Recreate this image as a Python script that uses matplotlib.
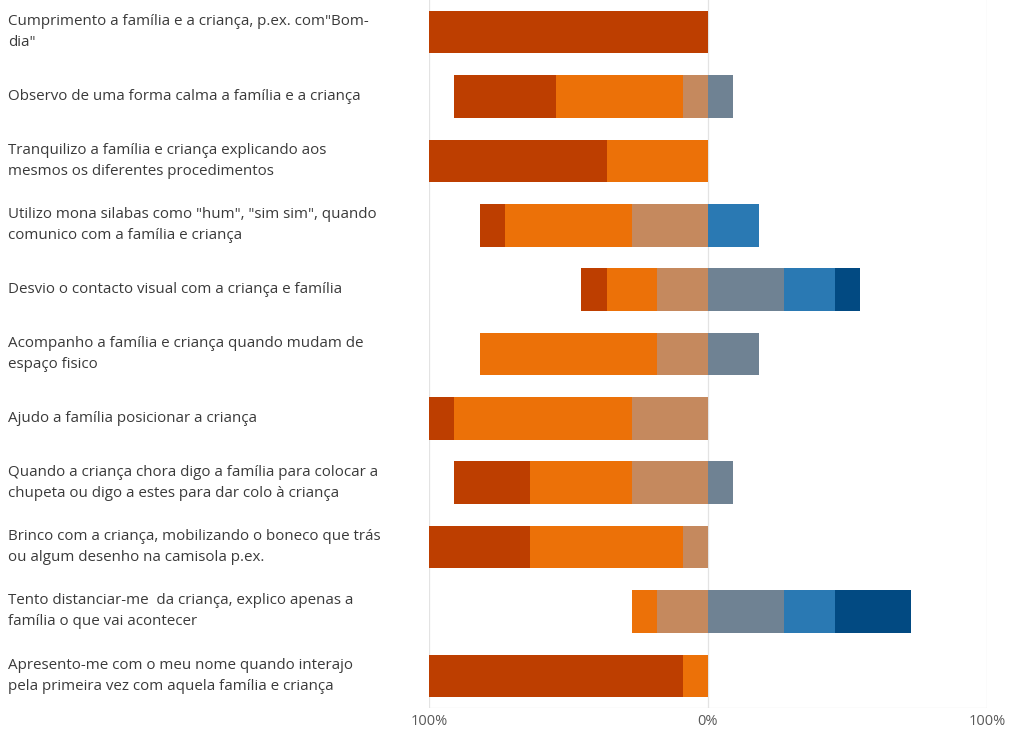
import matplotlib.pyplot as plt
from matplotlib.transforms import blended_transform_factory

plt.rcParams["font.family"] = ["Open Sans", "DejaVu Sans"]

# respostas (n = 11) por categoria, de cima para baixo
labels = [
    "Cumprimento a família e a criança, p.ex. com\"Bom-\ndia\"",
    "Observo de uma forma calma a família e a criança",
    "Tranquilizo a família e criança explicando aos\nmesmos os diferentes procedimentos",
    "Utilizo mona silabas como \"hum\", \"sim sim\", quando\ncomunico com a família e criança",
    "Desvio o contacto visual com a criança e família",
    "Acompanho a família e criança quando mudam de\nespaço fisico",
    "Ajudo a família posicionar a criança",
    "Quando a criança chora digo a família para colocar a\nchupeta ou digo a estes para dar colo à criança",
    "Brinco com a criança, mobilizando o boneco que trás\nou algum desenho na camisola p.ex.",
    "Tento distanciar-me  da criança, explico apenas a\nfamília o que vai acontecer",
    "Apresento-me com o meu nome quando interajo\npela primeira vez com aquela família e criança",
]

# lado esquerdo (do centro para fora: nivel3, nivel2, nivel1)
nivel1 = [11, 4, 7, 1, 1, 0, 1, 3, 4, 0, 10]
nivel2 = [0, 5, 4, 5, 2, 7, 7, 4, 6, 1, 1]
nivel3 = [0, 1, 0, 3, 2, 2, 3, 3, 1, 2, 0]
# lado direito
nivel4 = [0, 1, 0, 0, 3, 2, 0, 1, 0, 3, 0]
nivel5 = [0, 0, 0, 2, 2, 0, 0, 0, 0, 2, 0]
nivel6 = [0, 0, 0, 0, 1, 0, 0, 0, 0, 3, 0]

N = 11
cores = ["#BD3E00", "#EC7108", "#C5895E", "#6F8293", "#2A79B3", "#024A82"]

def pct(v):
    return [x / N * 100 for x in v]

fig = plt.figure(figsize=(10.1, 7.31), dpi=100)
ax = fig.add_axes([429 / 1010, 1 - 708 / 731, 558 / 1010, 708 / 731])

y = list(range(len(labels)))
h = 0.66

p1, p2, p3 = pct(nivel1), pct(nivel2), pct(nivel3)
p4, p5, p6 = pct(nivel4), pct(nivel5), pct(nivel6)

# esquerda
ax.barh(y, [-v for v in p3], height=h, color=cores[2])
ax.barh(y, [-v for v in p2], left=[-v for v in p3], height=h, color=cores[1])
ax.barh(y, [-v for v in p1], left=[-(a + b) for a, b in zip(p3, p2)], height=h, color=cores[0])
# direita
ax.barh(y, p4, height=h, color=cores[3])
ax.barh(y, p5, left=p4, height=h, color=cores[4])
ax.barh(y, p6, left=[a + b for a, b in zip(p4, p5)], height=h, color=cores[5])

ax.set_xlim(-100, 100)
ax.set_ylim(len(labels) - 0.5, -0.5)

for xv in (-100, 0, 100):
    ax.axvline(xv, color="#E3E3E3", linewidth=0.9, zorder=0)

for s in ax.spines.values():
    s.set_visible(False)
ax.axhline(len(labels) - 0.5, color="#E3E3E3", linewidth=0.9, zorder=0)

ax.set_yticks([])
ax.set_xticks([-100, 0, 100])
ax.set_xticklabels(["100%", "0%", "100%"], color="#595959", fontsize=10.5)
ax.tick_params(axis="x", length=0, pad=4)

trans = blended_transform_factory(fig.transFigure, ax.transData)
for i, lab in enumerate(labels):
    ax.text(8 / 1010, i, lab, transform=trans, ha="left", va="center",
            fontsize=10.9, color="#3A3A3A", linespacing=1.55)

fig.savefig("out.png", dpi=100)
